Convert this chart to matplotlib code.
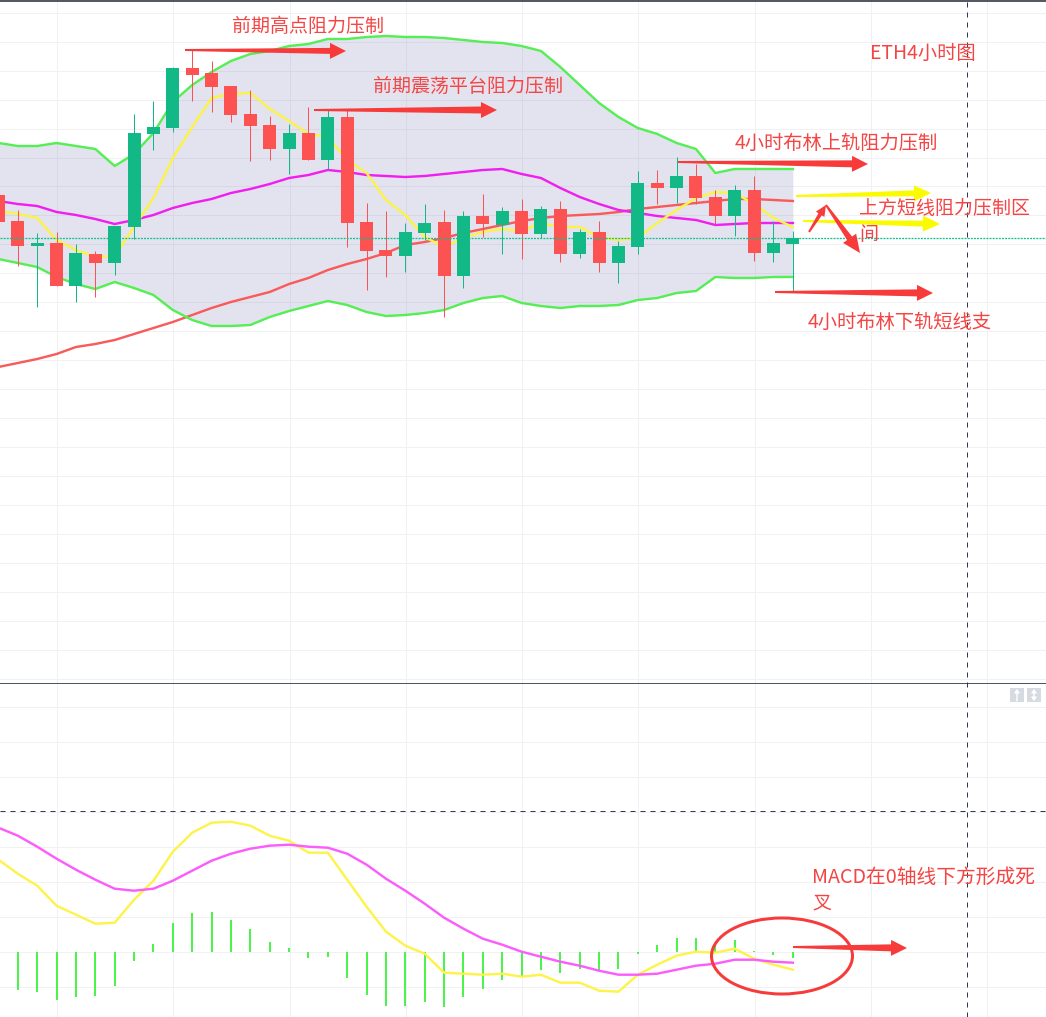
import numpy as np
import matplotlib
matplotlib.use("Agg")
import matplotlib.pyplot as plt
from matplotlib.patches import Ellipse, Polygon, Rectangle

plt.rcParams['font.family'] = ['Noto Sans CJK SC', 'DejaVu Sans']

W, H = 1046, 1017
PANE_Y = 683

# ETH 4h candles (price scale has no labels, units are relative)
opens = [488, 462, 437, 440, 397, 429, 420, 456, 549, 555, 615, 610, 597, 569, 558, 534, 550, 523, 566, 461, 433,
         427, 450, 461, 407, 467, 458, 472, 449, 474, 429, 451, 420, 436, 500, 495, 507, 486, 467, 493, 430, 439]
highs = [492, 473, 450, 451, 439, 432, 457, 569, 582, 616, 634, 622, 597, 593, 567, 559, 576, 574, 573, 480, 472,
         460, 479, 473, 472, 489, 476, 484, 477, 482, 454, 462, 442, 512, 513, 526, 519, 493, 498, 507, 462, 452]
lows = [447, 417, 376, 397, 381, 386, 408, 444, 533, 551, 582, 571, 561, 522, 523, 509, 523, 514, 436, 393, 406,
        411, 443, 366, 395, 446, 429, 424, 445, 421, 425, 411, 400, 429, 479, 480, 479, 459, 447, 422, 421, 391]
closes = [461, 437, 440, 397, 430, 420, 457, 550, 556, 615, 608, 596, 568, 557, 534, 550, 523, 566, 460, 432, 427,
          451, 460, 407, 467, 459, 472, 449, 474, 429, 451, 420, 437, 500, 495, 507, 485, 467, 493, 430, 440, 445]
last_price = 445

boll_upper = [540, 537, 537, 540, 537, 534, 517, 529, 550, 581, 598, 611, 622, 629, 632, 637, 639, 644, 644, 646, 647,
              646, 646, 645, 643, 641, 640, 637, 632, 616, 598, 580, 566, 555, 549, 540, 534, 510, 514, 514, 514, 514]
boll_mid = [482, 479, 477, 471, 468, 464, 459, 463, 468, 475, 480, 484, 490, 494, 499, 505, 508, 513, 511, 508, 507,
            506, 507, 509, 511, 513, 514, 509, 505, 495, 486, 479, 473, 470, 467, 465, 463, 458, 459, 460, 460, 460]
boll_lower = [424, 420, 416, 406, 399, 394, 401, 395, 388, 373, 363, 357, 357, 358, 366, 372, 377, 382, 378, 371, 367,
              368, 370, 373, 380, 385, 387, 380, 377, 375, 377, 377, 378, 383, 385, 390, 392, 406, 405, 405, 406, 406]
ma_fast = [472, 469, 465, 443, 433, 426, 427, 456, 485, 525, 556, 585, 589, 590, 574, 562, 549, 546, 523, 510, 483,
           468, 446, 436, 445, 451, 454, 452, 460, 456, 456, 446, 443, 445, 460, 473, 485, 491, 490, 479, 465, 456]
ma_slow = [316, 320, 324, 329, 336, 339, 343, 349, 355, 361, 368, 375, 381, 386, 391, 399, 405, 413, 419, 424, 430,
           438, 441, 445, 450, 454, 458, 462, 465, 467, 468, 469, 471, 474, 476, 478, 480, 482, 484, 484, 483, 482]

# MACD pane
macd_hist = [-36, -38, -40, -48, -45, -44, -34, -9, 8, 29, 39, 40, 32, 23, 10, 4, -6, -5, -26, -43, -54,
             -54, -50, -55, -45, -37, -28, -25, -18, -21, -17, -19, -17, -2, 7, 14, 14, 8, 12, 1, -3, -6]
macd_dif = [92, 78, 66, 46, 37, 28, 29, 52, 71, 100, 119, 129, 130, 126, 116, 111, 99, 99, 72, 45, 20,
            6, -2, -21, -22, -23, -22, -25, -23, -31, -31, -39, -40, -23, -13, -4, 0, -1, 3, -7, -13, -18]
macd_dea = [124, 116, 105, 93, 82, 72, 63, 61, 63, 71, 81, 91, 98, 103, 106, 107, 105, 104, 98, 87, 73,
            61, 48, 34, 23, 13, 7, 0, -5, -10, -14, -19, -23, -23, -22, -18, -14, -12, -8, -8, -10, -11]

UP = '#12b886'
DOWN = '#fc5252'
ARROW_RED = '#f73a3a'
TEXT_RED = '#f54444'
ARROW_YELLOW = '#fafa00'
GRID = '#f1f1f4'
DARK = '#2b3a4e'


def px_lw(n):
    return n * 72 / 100


def style_pane(ax, yticks):
    ax.set_xlim(0.081, 54.064)
    ax.set_xticks(np.arange(3, 54, 6) + 0.03)
    ax.set_yticks(yticks)
    ax.grid(True, color=GRID, lw=px_lw(1))
    ax.set_axisbelow(True)
    ax.tick_params(length=0, labelbottom=False, labelleft=False)
    for s in ax.spines.values():
        s.set_visible(False)


def taper_arrow(ax, start, tip, tail_w, body_w, head_w, head_len, color):
    p0 = np.array(start, float)
    p1 = np.array(tip, float)
    d = (p1 - p0) / np.hypot(*(p1 - p0))
    n = np.array([-d[1], d[0]])
    base = p1 - d * head_len
    pts = [p0 + n * tail_w / 2, base + n * body_w / 2, base + n * head_w / 2, p1,
           base - n * head_w / 2, base - n * body_w / 2, p0 - n * tail_w / 2]
    ax.add_patch(Polygon(pts, closed=True, fc=color, ec='none', zorder=5))


fig = plt.figure(figsize=(W / 100, H / 100), dpi=100)
fig.patch.set_facecolor('white')

# candles + bollinger
ax = fig.add_axes([0, (H - PANE_Y) / H, 1, PANE_Y / H])
idx = np.arange(len(closes))
style_pane(ax, 670.3 - 28.96 * np.arange(24))
ax.set_ylim(0, PANE_Y)
ax.fill_between(idx, boll_lower, boll_upper, color='#444494', alpha=0.15, lw=0, zorder=1.5)
ax.plot(idx, ma_slow, color='#f95a5a', lw=px_lw(2.4), zorder=2)
ax.plot(idx, boll_mid, color='#f01ff0', lw=px_lw(2.4), zorder=2)
ax.plot(idx, ma_fast, color='#fbf347', lw=px_lw(2.4), zorder=2)
ax.plot(idx, boll_upper, color='#55ee55', lw=px_lw(2.4), zorder=2)
ax.plot(idx, boll_lower, color='#55ee55', lw=px_lw(2.4), zorder=2)
colors = [UP if c >= o else DOWN for o, c in zip(opens, closes)]
ax.vlines(idx, lows, highs, colors=colors, lw=px_lw(1), zorder=3)
ax.bar(idx, np.abs(np.array(closes) - np.array(opens)), bottom=np.minimum(opens, closes),
       width=13 / 19.375, color=colors, lw=0, zorder=3)
ax.plot([0.081, 54.064], [last_price, last_price], color='#0fbf8c', lw=px_lw(1.3), dashes=(1.5, 0.9),
        dash_capstyle='butt', zorder=4, snap=True)

# macd
ax2 = fig.add_axes([0, 0, 1, (H - PANE_Y) / H])
style_pane(ax2, 35 * np.arange(-1, 8))
ax2.set_ylim(-65.3, 268.7)
ax2.vlines(idx, 0, macd_hist, colors='#4df24d', lw=px_lw(2), zorder=2)
ax2.plot(idx, macd_dif, color='#fdf34a', lw=px_lw(2.4), zorder=3)
ax2.plot(idx, macd_dea, color='#fb5cfb', lw=px_lw(2.4), zorder=3)

# hand drawn notes and the crosshair, in picture pixels
over = fig.add_axes([0, 0, 1, 1], facecolor='none')
over.set_xlim(0, W)
over.set_ylim(H, 0)
over.axis('off')
over.axhline(0.5, color='#1c2330', lw=px_lw(1.5))
over.axhline(PANE_Y - 0.2, color='#4a5568', lw=px_lw(1))
over.axhline(810.8, color=DARK, lw=px_lw(1), dashes=(5, 5))
over.axvline(966.8, color=DARK, lw=px_lw(1), dashes=(5, 5))

taper_arrow(over, (185, 50), (346, 51), 2, 6, 16, 16, ARROW_RED)
taper_arrow(over, (314, 110), (497, 110), 2, 7, 16, 16, ARROW_RED)
taper_arrow(over, (678, 162), (868, 164), 2, 7, 16, 16, ARROW_RED)
taper_arrow(over, (775, 292), (933, 293), 2, 7, 16, 16, ARROW_RED)
taper_arrow(over, (793, 947), (907, 948), 2, 7, 16, 16, ARROW_RED)
taper_arrow(over, (796, 196), (931, 193), 2, 6, 16, 17, ARROW_YELLOW)
taper_arrow(over, (803, 221), (940, 224), 2, 6, 16, 17, ARROW_YELLOW)
taper_arrow(over, (809, 232), (826, 205), 2, 4, 10, 11, ARROW_RED)
taper_arrow(over, (826, 205), (860, 253), 2, 6, 16, 18, ARROW_RED)
over.add_patch(Ellipse((782, 956), 141, 76, fc='none', ec=ARROW_RED, lw=px_lw(3), zorder=5))

notes = [
    (232, 27, '前期高点阻力压制', 13.7),
    (373, 86, '前期震荡平台阻力压制', 13.7),
    (870, 53, 'ETH4小时图', 13.9),
    (735, 143, '4小时布林上轨阻力压制', 13.9),
    (859, 208, '上方短线阻力压制区', 13.7),
    (859, 234, '间', 13.7),
    (808, 322, '4小时布林下轨短线支', 13.9),
    (812, 877, 'MACD在0轴线下方形成死', 14.2),
    (812, 903, '叉', 13.7),
]
for x, y, s, size in notes:
    over.text(x, y, s, color=TEXT_RED, fontsize=size, va='center', ha='left', zorder=6)

# pane buttons
for bx in (1010, 1027):
    over.add_patch(Rectangle((bx, 688), 14, 14, fc='#d5dbe0', ec='none'))
over.annotate('', xy=(1017, 689), xytext=(1017, 701),
              arrowprops=dict(arrowstyle='-|>,head_width=0.15,head_length=0.2', color='white', lw=1,
                              shrinkA=0, shrinkB=0))
over.annotate('', xy=(1034, 689), xytext=(1034, 701),
              arrowprops=dict(arrowstyle='<|-|>,head_width=0.15,head_length=0.2', color='white', lw=1,
                              shrinkA=0, shrinkB=0))

fig.savefig('out.png', dpi=100)
